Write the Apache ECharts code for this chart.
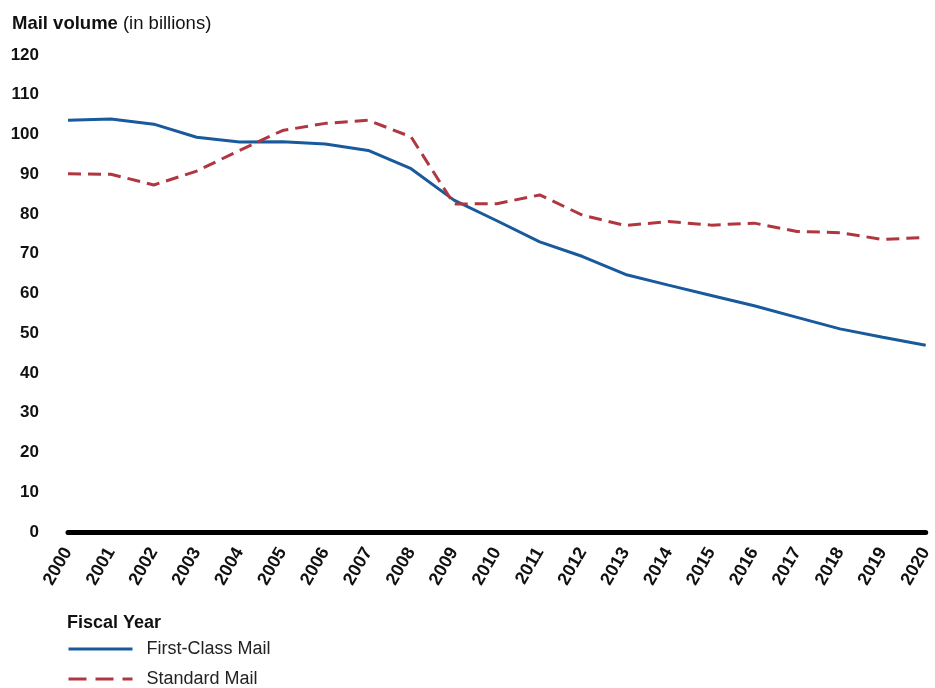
<!DOCTYPE html>
<html>
<head>
<meta charset="utf-8">
<script src="https://cdn.jsdelivr.net/npm/echarts@6/dist/echarts.min.js"></script>
<style>
  html, body { margin: 0; padding: 0; background: #fff; }
  #chart { width: 935px; height: 688px; }
</style>
</head>
<body>
<div id="chart"></div>
<script>
  // fiscal years and mail volume (billions)
  const years = ['2000', '2001', '2002', '2003', '2004', '2005', '2006', '2007', '2008', '2009', '2010',
    '2011', '2012', '2013', '2014', '2015', '2016', '2017', '2018', '2019', '2020']
  const firstClass = [103.6, 103.9, 102.6, 99.3, 98.1, 98.2, 97.6, 96.0, 91.4, 83.5, 78.3,
    73.0, 69.3, 64.8, 62.1, 59.5, 56.9, 54.0, 51.1, 49.0, 47.0]
  const standard = [90.1, 90.0, 87.3, 90.8, 96.0, 101.0, 102.8, 103.6, 99.4, 82.5, 82.6,
    84.8, 79.7, 77.1, 78.1, 77.2, 77.7, 75.6, 75.3, 73.6, 74.1]
  const seriesNames = ['First-Class Mail', 'Standard Mail']

  const font = 'Liberation Sans, Arial, sans-serif'
  const chart = echarts.init(document.getElementById('chart'))

  chart.setOption({
    animation: false,
    backgroundColor: '#fff',
    textStyle: { fontFamily: font },
    title: {
      left: 12,
      top: 14,
      padding: 0,
      text: '{b|Mail volume} {n|(in billions)}',
      textStyle: {
        rich: {
          b: { fontFamily: font, fontSize: 18.5, fontWeight: 'bold', color: '#111' },
          n: { fontFamily: font, fontSize: 18.5, fontWeight: 'normal', color: '#111' }
        }
      }
    },
    graphic: [{
      type: 'text',
      left: 67,
      top: 614,
      style: { text: 'Fiscal Year', font: 'bold 18px ' + font, fill: '#111' }
    }],
    legend: {
      orient: 'vertical',
      left: 67,
      top: 640,
      height: 80,
      padding: 0,
      itemWidth: 64,
      itemHeight: 14,
      itemGap: 12,
      data: [
        { name: seriesNames[0], lineStyle: { width: 3 } },
        { name: seriesNames[1], lineStyle: { width: 3, type: [18, 9] } }
      ],
      itemStyle: { opacity: 0 },
      textStyle: { fontSize: 18, color: '#222', padding: [0, 0, 0, 9] }
    },
    grid: { left: 68, right: 5, top: 55, bottom: 156, containLabel: false },
    xAxis: {
      type: 'category',
      data: years,
      boundaryGap: false,
      axisLine: { lineStyle: { color: '#000', width: 5 } },
      axisTick: { show: false },
      axisLabel: { rotate: 60, fontSize: 18, fontWeight: 'bold', color: '#111', margin: 17 }
    },
    yAxis: {
      type: 'value',
      min: 0,
      max: 120,
      interval: 10,
      axisLine: { show: false },
      axisTick: { show: false },
      splitLine: { show: false },
      axisLabel: { fontSize: 17, fontWeight: 'bold', color: '#111', margin: 29 }
    },
    series: [{
      name: seriesNames[0],
      type: 'line',
      data: firstClass,
      symbol: 'none',
      color: '#195a9c',
      lineStyle: { color: '#195a9c', width: 3 }
    }, {
      name: seriesNames[1],
      type: 'line',
      data: standard,
      symbol: 'none',
      color: '#b0363f',
      lineStyle: { color: '#b0363f', width: 3, type: [13, 7] }
    }]
  })
</script>
</body>
</html>
